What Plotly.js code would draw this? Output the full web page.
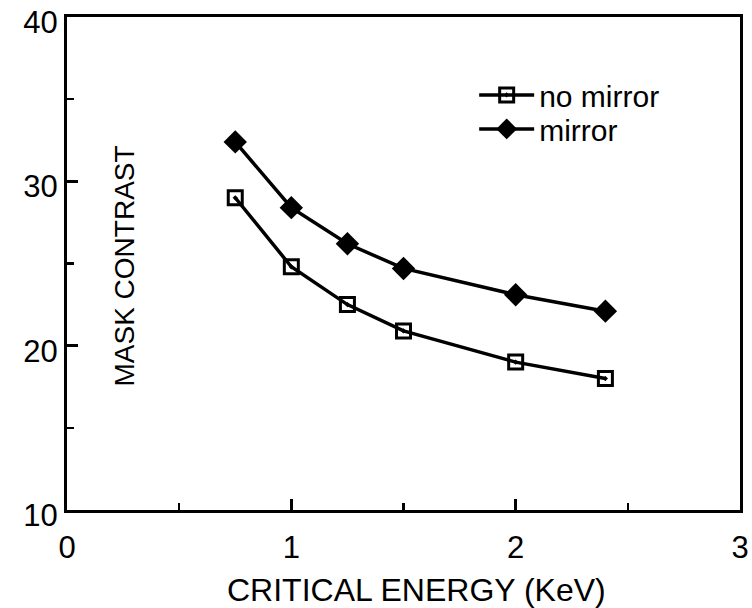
<!DOCTYPE html>
<html><head><meta charset="utf-8">
<script src="https://cdn.plot.ly/plotly-3.0.1.min.js"></script>
<style>html,body{margin:0;padding:0;background:#fff}</style>
</head><body>
<div id="chart" style="width:752px;height:608px"></div>
<script>
const energy = [0.75, 1.0, 1.25, 1.5, 2.0, 2.4];
const noMirror = [29.0, 24.8, 22.5, 20.9, 19.0, 18.0];
const mirror = [32.4, 28.4, 26.2, 24.7, 23.1, 22.1];
const seriesNames = ["no mirror", "mirror"];
const xTickVals = [0, 1, 2, 3];
const yTickVals = [10, 20, 30, 40];

const fontFam = "Liberation Sans, Arial, Helvetica, sans-serif";
const traces = [
  {x: energy, y: noMirror, name: seriesNames[0], mode: "lines+markers", legend: "legend",
   line: {color: "#000", width: 3.5},
   marker: {symbol: "square-open-dot", size: 14, color: "#000", line: {width: 3, color: "#000"}}},
  {x: energy, y: mirror, name: seriesNames[1], mode: "lines+markers", legend: "legend2",
   line: {color: "#000", width: 3.5},
   marker: {symbol: "diamond", size: 18, color: "#000"}}
];
const axisCommon = {
  showline: true, linecolor: "#000", linewidth: 3, mirror: true,
  ticks: "inside", ticklen: 11, tickwidth: 2.5, tickcolor: "#000",
  showgrid: false, zeroline: false,
  tickfont: {family: fontFam, size: 31, color: "#000"}
};
const legCommon = {xanchor: "left", yanchor: "middle", bgcolor: "rgba(0,0,0,0)",
  font: {family: fontFam, size: 30, color: "#000"}, itemwidth: 55};
const layout = {
  width: 752, height: 608,
  margin: {l: 67, r: 12, t: 17, b: 98},
  paper_bgcolor: "#fff", plot_bgcolor: "#fff",
  showlegend: true,
  legend: Object.assign({x: 0.605, y: 0.842}, legCommon),
  legend2: Object.assign({x: 0.605, y: 0.773}, legCommon),
  xaxis: Object.assign({}, axisCommon, {range: [0, 3], tickvals: xTickVals,
    ticklabeloverflow: "allow", ticklabelstandoff: 8,
    minor: {dtick: 0.5, ticks: "inside", ticklen: 7, tickwidth: 2.5, tickcolor: "#000"}}),
  yaxis: Object.assign({}, axisCommon, {range: [10, 40], tickvals: yTickVals,
    ticklabelshift: 5,
    minor: {dtick: 5, ticks: "inside", ticklen: 7, tickwidth: 2.5, tickcolor: "#000"}}),
  annotations: [{
    text: "MASK CONTRAST", xref: "paper", yref: "paper", x: 0.0855, y: 0.495,
    textangle: -90, showarrow: false, xanchor: "center", yanchor: "middle",
    font: {family: fontFam, size: 28, color: "#000"}
  }, {
    text: "CRITICAL ENERGY (KeV)", xref: "paper", yref: "paper", x: 0.52, y: -0.162,
    showarrow: false, xanchor: "center", yanchor: "middle",
    font: {family: fontFam, size: 32, color: "#000"}
  }]
};
Plotly.newPlot("chart", traces, layout, {displayModeBar: false, staticPlot: true});
</script>
</body></html>
